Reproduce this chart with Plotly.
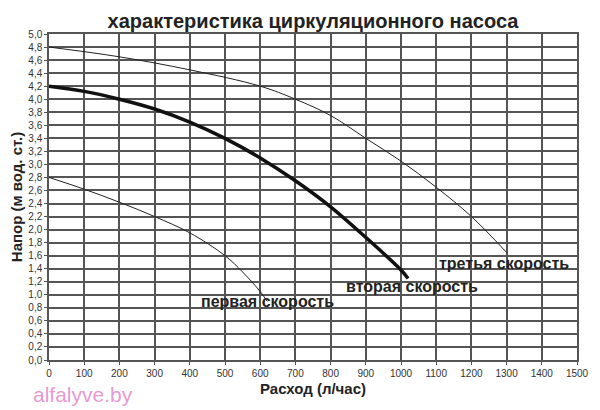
import plotly.graph_objects as go

# Pump curves
flow_1 = [0, 100, 200, 300, 400, 500, 550, 600, 620]
head_1 = [2.8, 2.62, 2.42, 2.2, 1.95, 1.6, 1.35, 1.05, 0.9]

flow_2 = [0, 100, 200, 300, 400, 500, 600, 700, 800, 900, 1000, 1020]
head_2 = [4.2, 4.12, 4.0, 3.85, 3.65, 3.4, 3.1, 2.75, 2.35, 1.88, 1.38, 1.25]

flow_3 = [0, 200, 400, 600, 700, 800, 900, 1000, 1100, 1200, 1300]
head_3 = [4.8, 4.65, 4.45, 4.2, 4.0, 3.75, 3.4, 3.05, 2.65, 2.2, 1.65]

x_ticks = list(range(0, 1501, 100))
y_ticks = [i / 5 for i in range(26)]
y_labels = [f"{v:.1f}".replace(".", ",") for v in y_ticks]

fig = go.Figure()
fig.add_trace(go.Scatter(x=flow_1, y=head_1, mode="lines", line=dict(color="#222", width=1, shape="spline")))
fig.add_trace(go.Scatter(x=flow_2, y=head_2, mode="lines", line=dict(color="#111", width=3.5, shape="spline")))
fig.add_trace(go.Scatter(x=flow_3, y=head_3, mode="lines", line=dict(color="#222", width=1, shape="spline")))

lbl = dict(showarrow=False, font=dict(family="Liberation Sans", size=16, color="#222"))
fig.add_annotation(x=620, y=0.89, text="<b>первая скорость</b>", **lbl)
fig.add_annotation(x=1031, y=1.13, text="<b>вторая скорость</b>", **lbl)
fig.add_annotation(x=1293, y=1.48, text="<b>третья скорость</b>", **lbl)
fig.add_annotation(xref="paper", yref="paper", x=-0.035, y=-0.107, xanchor="left", yanchor="middle",
                   text="alfalyve.by", showarrow=False,
                   font=dict(family="Liberation Sans", size=21, color="#e89ad0"))

axis_common = dict(showgrid=True, gridcolor="#555", gridwidth=1.5, showline=True, linecolor="#555",
                   linewidth=1.5, mirror=True, zeroline=False, ticks="outside", ticklen=3,
                   tickcolor="#555", automargin=False,
                   tickfont=dict(family="Liberation Sans", size=10, color="#333"))

# the page adds an 8px body margin, so the plot box is offset to compensate
fig.update_layout(
    width=600, height=410,
    margin=dict(l=41, r=31, t=26, b=58),
    paper_bgcolor="white", plot_bgcolor="white",
    showlegend=False,
    title=dict(text="<b>характеристика циркуляционного насоса</b>", x=0.5, xref="paper",
               y=0.985, yanchor="top",
               font=dict(family="Liberation Sans", size=20, color="#222")),
    xaxis=dict(range=[0, 1500], tickvals=x_ticks,
               title=dict(text="<b>Расход (л/час)</b>", standoff=6,
                          font=dict(family="Liberation Sans", size=15, color="#222")),
               **axis_common),
    yaxis=dict(range=[0, 5], tickvals=y_ticks, ticktext=y_labels,
               title=dict(text="<b>Напор (м вод. ст.)</b>", standoff=4,
                          font=dict(family="Liberation Sans", size=15, color="#222")),
               **axis_common),
)

fig.write_html("out.html")
